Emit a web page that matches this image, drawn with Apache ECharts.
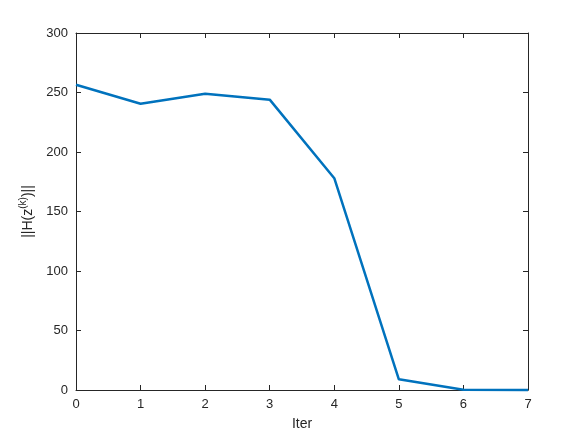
<!DOCTYPE html>
<html>
<head>
<meta charset="utf-8">
<script src="https://cdn.jsdelivr.net/npm/echarts@6/dist/echarts.min.js"></script>
<style>
  html, body { margin: 0; padding: 0; background: #fff; }
  #chart { width: 584px; height: 438px; }
</style>
</head>
<body>
<div id="chart"></div>
<script>
  // iteration numbers and residual norm
  let iters = [0, 1, 2, 3, 4, 5, 6, 7];
  let normH = [256.5, 240.5, 249, 244, 178, 9, 0.3, 0];
  let yTicks = [0, 50, 100, 150, 200, 250, 300];

  let chart = echarts.init(document.getElementById('chart'));
  let axisColor = '#262626';
  let font = 'Liberation Sans, Arial, sans-serif';

  let tickStyle = { show: true, inside: true, length: 5, lineStyle: { color: axisColor, width: 1 } };
  let lineStyle = { show: true, onZero: false, lineStyle: { color: axisColor, width: 1 } };

  let option = {
    animation: false,
    grid: {
      left: 76,
      right: 56,
      top: 33,
      bottom: 48
    },
    xAxis: [
      {
        type: 'value',
        min: 0,
        max: 7,
        interval: 1,
        name: 'Iter',
        nameLocation: 'middle',
        nameGap: 27,
        nameTextStyle: { color: axisColor, fontSize: 14, fontFamily: font },
        axisLine: lineStyle,
        axisTick: tickStyle,
        axisLabel: { color: axisColor, fontSize: 13, fontFamily: font, margin: 8 },
        splitLine: { show: false }
      },
      {
        // top edge of the box
        type: 'value',
        position: 'top',
        min: 0,
        max: 7,
        interval: 1,
        axisLine: lineStyle,
        axisTick: tickStyle,
        axisLabel: { show: false },
        splitLine: { show: false }
      }
    ],
    yAxis: [
      {
        type: 'value',
        min: 0,
        max: yTicks[yTicks.length - 1],
        interval: 50,
        name: '{n|||H(z}{s|(k)}{n|)||}',
        nameLocation: 'middle',
        nameRotate: 90,
        nameGap: 31,
        nameTextStyle: {
          color: axisColor,
          fontFamily: font,
          rich: {
            n: { fontSize: 14, color: axisColor, fontFamily: font },
            s: { fontSize: 10, color: axisColor, fontFamily: font, padding: [0, 0, 10, 0] }
          }
        },
        axisLine: lineStyle,
        axisTick: tickStyle,
        axisLabel: { color: axisColor, fontSize: 13, fontFamily: font, margin: 8 },
        splitLine: { show: false }
      },
      {
        // right edge of the box
        type: 'value',
        position: 'right',
        min: 0,
        max: 300,
        interval: 50,
        axisLine: lineStyle,
        axisTick: tickStyle,
        axisLabel: { show: false },
        splitLine: { show: false }
      }
    ],
    series: [
      {
        type: 'line',
        data: iters.map((x, i) => [x, normH[i]]),
        symbol: 'none',
        lineStyle: { color: '#0072BD', width: 2.5 },
        clip: false
      },
      {
        // empty series so the top/right axes are drawn
        type: 'line',
        xAxisIndex: 1,
        yAxisIndex: 1,
        data: [],
        symbol: 'none'
      }
    ]
  };
  chart.setOption(option);
</script>
</body>
</html>
